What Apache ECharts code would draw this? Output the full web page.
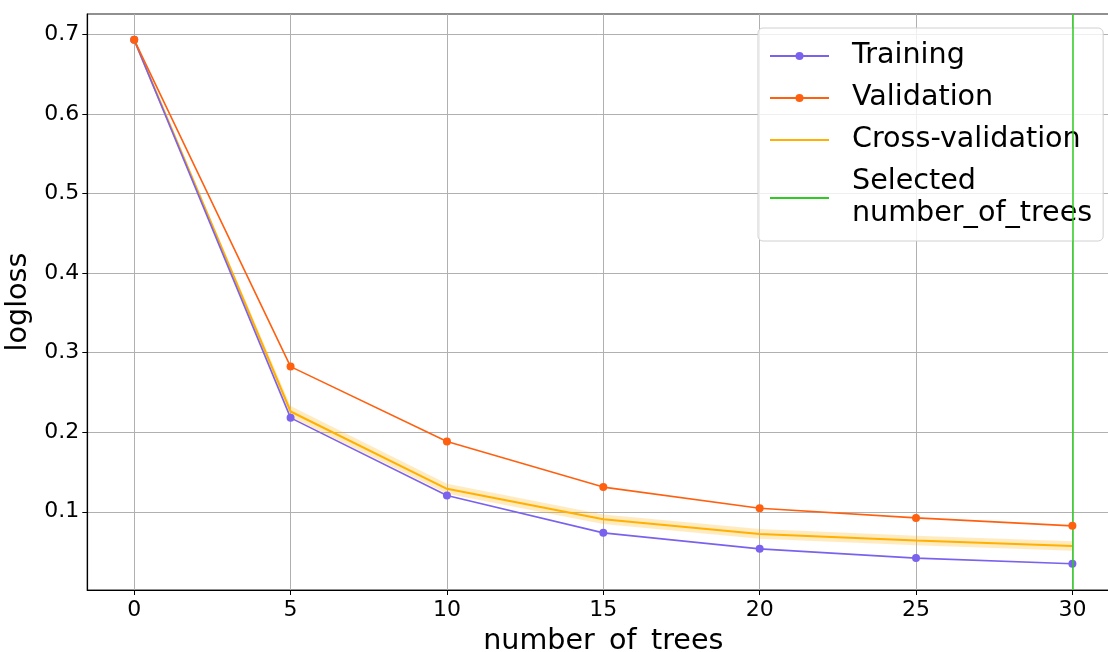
<!DOCTYPE html>
<html>
<head>
<meta charset="utf-8">
<script src="https://cdn.jsdelivr.net/npm/echarts@6/dist/echarts.min.js"></script>
<style>
  html, body { margin: 0; padding: 0; background: #fff; }
  #chart { width: 1108px; height: 652px; }
</style>
</head>
<body>
<div id="chart"></div>
<script>
// Boosting iterations evaluated at
const numTrees = [0, 5, 10, 15, 20, 25, 30];
// Log loss per split
const trainingLoss   = [0.693, 0.218, 0.1205, 0.0735, 0.0534, 0.0418, 0.0346];
const validationLoss = [0.693, 0.2824, 0.1882, 0.131, 0.1045, 0.0923, 0.0823];
const cvLoss         = [0.693, 0.226, 0.1288, 0.0907, 0.0722, 0.0638, 0.0571];
// Cross-validation spread (lower / upper edge of the shaded band)
const cvLower        = [0.693, 0.219, 0.1225, 0.0847, 0.0662, 0.0578, 0.0511];
const cvUpper        = [0.693, 0.233, 0.1351, 0.0967, 0.0782, 0.0698, 0.0631];
const selectedTrees = 30;
const xTicks = [0, 5, 10, 15, 20, 25, 30];
const yTicks = [0.1, 0.2, 0.3, 0.4, 0.5, 0.6, 0.7];

const FONT = '"DejaVu Sans", sans-serif';
const pairs = ys => numTrees.map((x, i) => [x, ys[i]]);

// Shaded band: one polygon along the upper edge and back along the lower edge
function renderBand(params, api) {
  if (params.dataIndex !== 0) return null;
  const upper = numTrees.map((x, i) => api.coord([x, cvUpper[i]]));
  const lower = numTrees.map((x, i) => api.coord([x, cvLower[i]])).reverse();
  return {
    type: 'polygon',
    shape: { points: upper.concat(lower) },
    style: { fill: 'rgba(255,176,0,0.25)', stroke: 'none' },
    silent: true
  };
}

const chart = echarts.init(document.getElementById('chart'), null, { renderer: 'canvas' });
chart.setOption({
  animation: false,
  backgroundColor: '#fff',
  textStyle: { fontFamily: FONT },
  grid: {
    left: 87.3, top: 14, width: 1032, height: 576,
    containLabel: false, outerBoundsMode: 'none',
    show: true, borderColor: '#222', borderWidth: 1.2, backgroundColor: 'transparent'
  },
  xAxis: {
    type: 'value', min: -1.5, max: 31.5,
    name: 'number_of_trees', nameLocation: 'middle', nameGap: 37,
    nameTextStyle: { fontSize: 28.6, color: '#000', fontFamily: FONT },
    axisLine: { show: true, onZero: false, lineStyle: { color: '#000', width: 1.2 } },
    axisTick: { show: true, length: 5, customValues: xTicks, lineStyle: { color: '#000', width: 1 } },
    axisLabel: { customValues: xTicks, fontSize: 22, color: '#000', margin: 9, fontFamily: FONT },
    splitLine: { show: true, lineStyle: { color: '#b0b0b0', width: 1 } }
  },
  yAxis: {
    type: 'value', min: 0.0017, max: 0.7255,
    name: 'logloss', nameLocation: 'middle', nameGap: 51, nameRotate: 90,
    nameTextStyle: { fontSize: 28.6, color: '#000', fontFamily: FONT },
    axisLine: { show: true, onZero: false, lineStyle: { color: '#000', width: 1.2 } },
    axisTick: { show: true, length: 5, customValues: yTicks, lineStyle: { color: '#000', width: 1 } },
    axisLabel: { customValues: yTicks, fontSize: 22, color: '#000', margin: 8, fontFamily: FONT,
                 formatter: v => v.toFixed(1) },
    splitLine: { show: true, lineStyle: { color: '#b0b0b0', width: 1 } }
  },
  legend: {
    left: 758, top: 28, orient: 'vertical',
    data: [
      { name: 'Training' },
      { name: 'Validation' },
      { name: 'Cross-validation', itemStyle: { opacity: 0 } },
      { name: 'Selected\nnumber_of_trees', itemStyle: { opacity: 0 } }
    ],
    itemWidth: 59, itemHeight: 10, itemGap: 10,
    padding: [12, 11, 11, 11],
    backgroundColor: 'rgba(255,255,255,0.8)',
    borderColor: '#d0d0d0', borderWidth: 1, borderRadius: 5,
    textStyle: { fontSize: 28.6, color: '#000', lineHeight: 32, fontFamily: FONT, padding: [0, 0, 0, 18] }
  },
  series: [
    {
      name: 'Selected\nnumber_of_trees', type: 'line', data: [], symbol: 'none',
      color: '#2ecc22', lineStyle: { color: '#2ecc22', width: 1.5 },
      markLine: {
        silent: true, symbol: 'none', label: { show: false },
        lineStyle: { color: '#2ecc22', width: 1.5, type: 'solid' },
        data: [{ xAxis: selectedTrees }]
      },
      z: 1
    },
    {
      name: 'cvBand', type: 'custom', renderItem: renderBand,
      data: numTrees.map((x, i) => [x, cvLower[i], cvUpper[i]]),
      encode: { x: 0, y: [1, 2] }, silent: true, z: 2
    },
    {
      name: 'Cross-validation', type: 'line', data: pairs(cvLoss),
      symbol: 'none', color: '#ffb000', lineStyle: { color: '#ffb000', width: 2 }, z: 3
    },
    {
      name: 'Training', type: 'line', data: pairs(trainingLoss),
      symbol: 'circle', symbolSize: 8, showSymbol: true,
      color: '#7b62ee', itemStyle: { color: '#7b62ee' }, lineStyle: { color: '#7b62ee', width: 1.6 }, z: 4
    },
    {
      name: 'Validation', type: 'line', data: pairs(validationLoss),
      symbol: 'circle', symbolSize: 8, showSymbol: true,
      color: '#ff6010', itemStyle: { color: '#ff6010' }, lineStyle: { color: '#ff6010', width: 1.6 }, z: 5
    }
  ]
});
</script>
</body>
</html>
